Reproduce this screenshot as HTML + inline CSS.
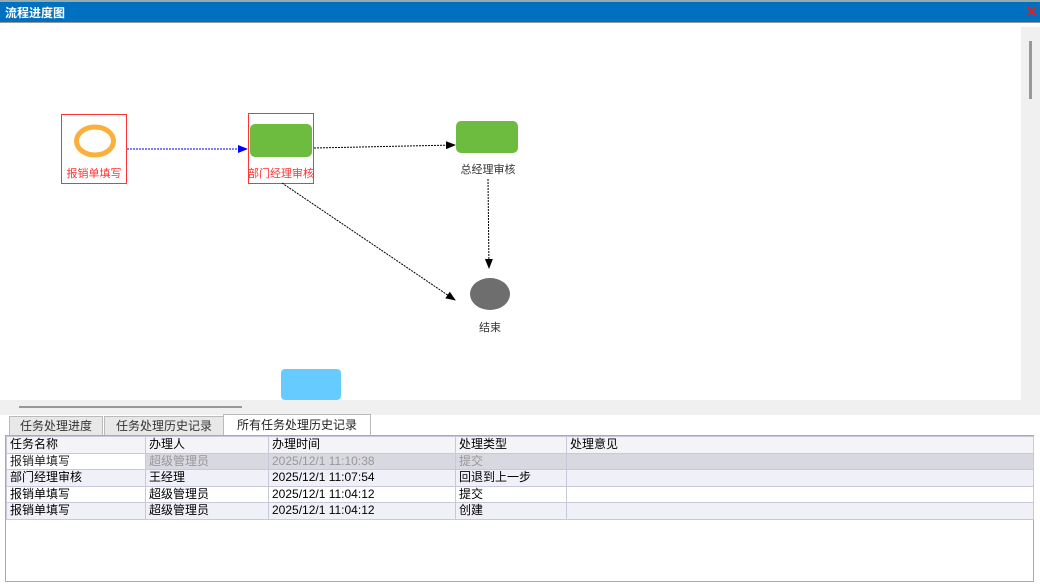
<!DOCTYPE html>
<html><head><meta charset="utf-8"><style>
body{margin:0;width:1040px;height:588px;overflow:hidden;background:#fff;font-family:"Liberation Sans","Noto Sans CJK SC",sans-serif;position:relative}
.a{position:absolute}
table{border-collapse:collapse;font-size:12px;table-layout:fixed}
td{border:1px solid #c8c8d8;height:15.5px;padding:0 3px;white-space:nowrap;line-height:15px;overflow:hidden}
</style></head><body>
<div class="a" style="left:0;top:0;width:1040px;height:2px;background:#9aa"></div>
<div class="a" style="left:0;top:2px;width:1040px;height:20px;background:#0070c0;border-bottom:1px solid #999"></div>
<div class="a" style="left:5px;top:4px;color:#fff;font-size:12px;font-weight:bold">流程进度图</div>
<div class="a" style="left:1025px;top:2px;color:#e02020;font-size:16px;font-weight:bold">✕</div>
<div class="a" style="left:1021px;top:27px;width:19px;height:388px;background:#f0f0f0"></div>
<div class="a" style="left:1029px;top:41px;width:3px;height:58px;background:#999"></div>
<div class="a" style="left:0;top:400px;width:1040px;height:15px;background:#f0f0f0"></div>
<div class="a" style="left:19px;top:406px;width:223px;height:2px;background:#999"></div>
<svg class="a" style="left:0;top:0" width="1040" height="400">
<defs><marker id="m" markerWidth="10" markerHeight="8" refX="9" refY="4" orient="auto" markerUnits="userSpaceOnUse"><path d="M0,0L10,4L0,8z" fill="#000"/></marker>
<marker id="b" markerWidth="10" markerHeight="8" refX="9" refY="4" orient="auto" markerUnits="userSpaceOnUse"><path d="M0,0L10,4L0,8z" fill="#00f"/></marker></defs>
<rect x="61.5" y="114.5" width="65" height="69" fill="none" stroke="#f33"/>
<ellipse cx="95" cy="141" rx="18.5" ry="14" fill="none" stroke="#fbb03b" stroke-width="5"/>
<text x="94" y="177" font-size="11" fill="#f33" text-anchor="middle">报销单填写</text>
<rect x="250" y="124" width="62" height="33" rx="5" fill="#6dbb3f"/>
<rect x="248.5" y="113.5" width="65" height="70" fill="none" stroke="#f33"/>
<text x="281" y="177" font-size="11" fill="#f33" text-anchor="middle">部门经理审核</text>
<rect x="456" y="121" width="62" height="32" rx="5" fill="#6dbb3f"/>
<text x="488" y="173" font-size="11" fill="#333" text-anchor="middle">总经理审核</text>
<ellipse cx="490" cy="294" rx="20" ry="16" fill="#6e6e6e"/>
<text x="490" y="331" font-size="11" fill="#333" text-anchor="middle">结束</text>
<line x1="127" y1="149" x2="247" y2="149" stroke="#00f" stroke-dasharray="2,1" marker-end="url(#b)"/>
<line x1="314" y1="148" x2="455" y2="145" stroke="#000" stroke-dasharray="2,1" marker-end="url(#m)"/>
<line x1="488" y1="179" x2="489" y2="268" stroke="#000" stroke-dasharray="2,1" marker-end="url(#m)"/>
<line x1="282" y1="183" x2="455" y2="300" stroke="#000" stroke-dasharray="2,1" marker-end="url(#m)"/>
<rect x="281" y="369" width="60" height="31" rx="4" fill="#66ccff"/>
</svg>
<div class="a" style="left:9px;top:416px;width:92px;height:18px;background:#e8e8e8;border:1px solid #bbb;font-size:12px;line-height:18px;text-align:center;color:#333">任务处理进度</div>
<div class="a" style="left:104px;top:416px;width:118px;height:18px;background:#e8e8e8;border:1px solid #bbb;font-size:12px;line-height:18px;text-align:center;color:#333">任务处理历史记录</div>
<div class="a" style="left:223px;top:414px;width:146px;height:21px;background:#fff;border:1px solid #bbb;border-bottom:none;font-size:12px;line-height:21px;text-align:center;color:#222">所有任务处理历史记录</div>
<div class="a" style="left:5px;top:435px;width:1027px;height:145px;border:1px solid #aaa;background:#fff">
<table style="width:1028px">
<colgroup><col style="width:139px"><col style="width:123px"><col style="width:187px"><col style="width:111px"><col></colgroup>
<tr style="background:#f4f4f8"><td>任务名称</td><td>办理人</td><td>办理时间</td><td>处理类型</td><td>处理意见</td></tr>
<tr style="background:#d8d8e0;color:#999"><td style="background:#fff;color:#222">报销单填写</td><td>超级管理员</td><td>2025/12/1 11:10:38</td><td>提交</td><td></td></tr>
<tr style="background:#f0f0f8"><td>部门经理审核</td><td>王经理</td><td>2025/12/1 11:07:54</td><td>回退到上一步</td><td></td></tr>
<tr><td>报销单填写</td><td>超级管理员</td><td>2025/12/1 11:04:12</td><td>提交</td><td></td></tr>
<tr style="background:#f0f0f8"><td>报销单填写</td><td>超级管理员</td><td>2025/12/1 11:04:12</td><td>创建</td><td></td></tr>
</table></div>
</body></html>
